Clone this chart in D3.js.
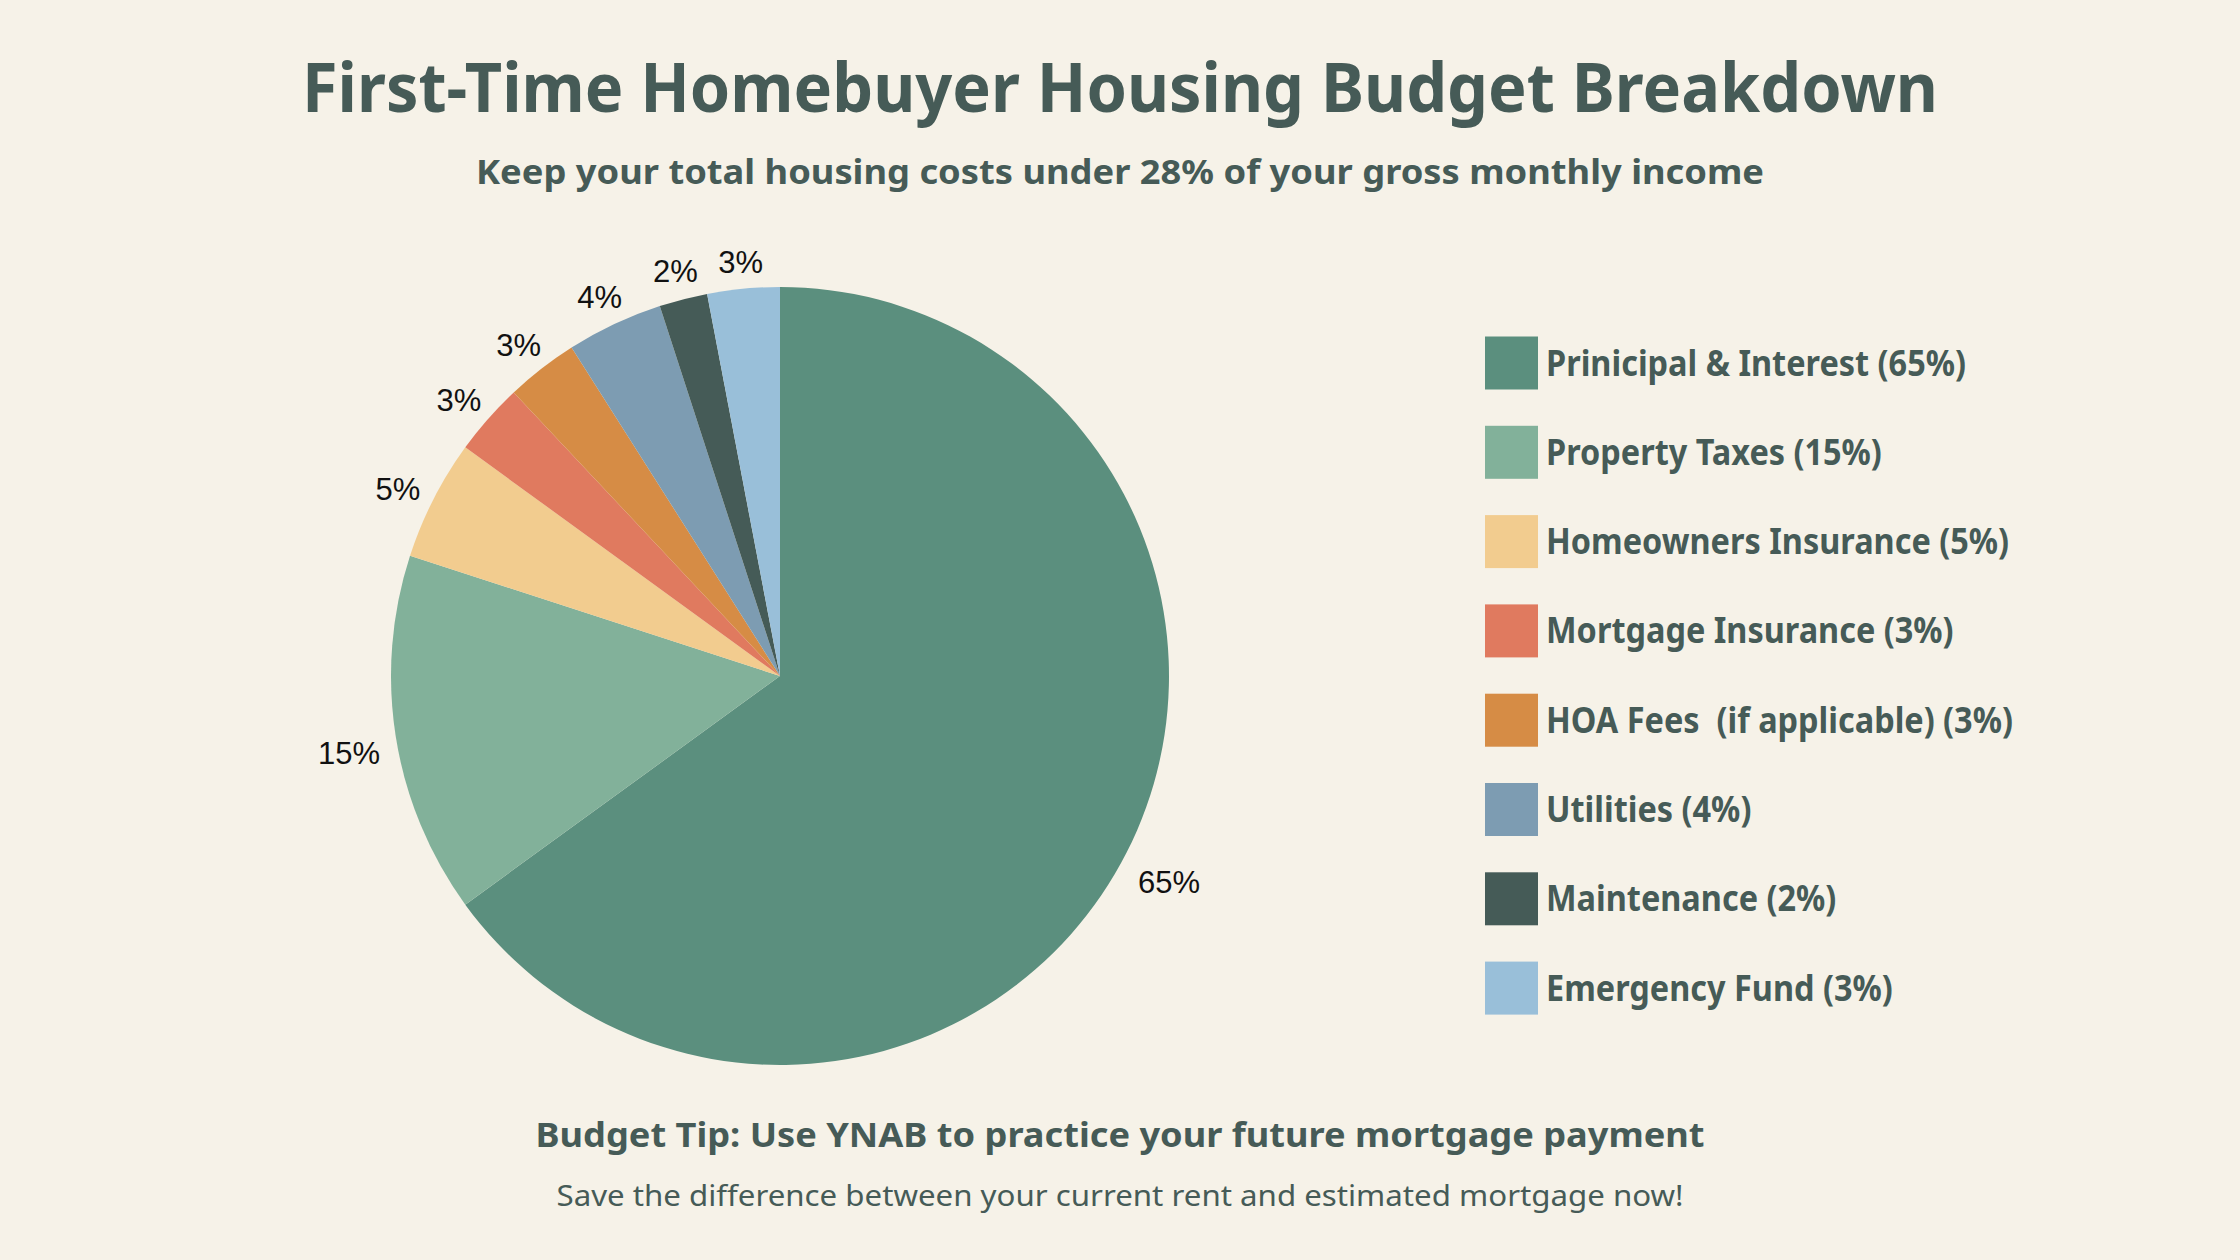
<!DOCTYPE html>
<html>
<head>
<meta charset="utf-8">
<script src="https://cdn.jsdelivr.net/npm/d3@7"></script>
<style>
    body { margin: 0; background: #f6f2e8; }
    text { white-space: pre; }
</style>
</head>
<body>
<svg id="chart" width="2240" height="1260"></svg>
<script>
const categories = [
    "Prinicipal & Interest",
    "Property Taxes",
    "Homeowners Insurance",
    "Mortgage Insurance",
    "HOA Fees  (if applicable)",
    "Utilities",
    "Maintenance",
    "Emergency Fund"
]
const shares = [65, 15, 5, 3, 3, 4, 2, 3]
const sliceColors = ["#5b8f7e", "#82b19a", "#f2cc8f", "#e07a5f", "#d68c45", "#7d9cb2", "#455b57", "#99bfd9"]

const titleText = "First-Time Homebuyer Housing Budget Breakdown"
const subtitleText = "Keep your total housing costs under 28% of your gross monthly income"
const tipText = "Budget Tip: Use YNAB to practice your future mortgage payment"
const noteText = "Save the difference between your current rent and estimated mortgage now!"

const ink = "#465b57"
const headFont = "'Noto Sans', 'Open Sans', sans-serif"
const labelFont = "'Liberation Sans', Arial, sans-serif"

const data = categories.map((c, i) => ({name: c, value: shares[i], color: sliceColors[i]}))

let svg = d3.select("#chart")

svg.append("rect")
    .attr("width", 2240)
    .attr("height", 1260)
    .attr("fill", "#f6f2e8")

// squeeze a text to the width the condensed original font takes
function fitWidth(sel, w) {
    sel.attr("textLength", w).attr("lengthAdjust", "spacingAndGlyphs")
}

function heading(txt, y, size, weight, w) {
    let t = svg.append("text")
        .attr("x", 1120)
        .attr("y", y)
        .attr("text-anchor", "middle")
        .attr("font-family", headFont)
        .attr("font-size", size)
        .attr("font-weight", weight)
        .attr("fill", ink)
        .text(txt)
    fitWidth(t, w)
    return t
}

heading(titleText, 112, 68, 700, 1636)
heading(subtitleText, 184, 34, 700, 1288)
heading(tipText, 1147, 34, 700, 1169)
heading(noteText, 1206, 29, 400, 1127)

// pie
const cx = 780, cy = 676, R = 389

const pie = d3.pie()
    .sort(null)
    .value(d => d.value)

const arc = d3.arc()
    .innerRadius(0)
    .outerRadius(R)

const arcs = pie(data)

let g = svg.append("g").attr("transform", `translate(${cx},${cy})`)

g.selectAll("path.slice")
    .data(arcs)
    .join("path")
    .attr("class", "slice")
    .attr("d", arc)
    .attr("fill", d => d.data.color)

const capH = 22
const gap = 15

g.selectAll("text.pct")
    .data(arcs)
    .join("text")
    .attr("class", "pct")
    .attr("text-anchor", "middle")
    .attr("font-family", labelFont)
    .attr("font-size", 31)
    .attr("fill", "#111")
    .text(d => d.data.value + "%")
    .each(function (d) {
        const a = (d.startAngle + d.endAngle) / 2
        const s = Math.sin(a), c = -Math.cos(a)
        const w = this.getComputedTextLength()
        const r = R + gap + Math.abs(s) * w / 2 + Math.abs(c) * capH / 2
        // side labels sit a little lower in the original
        const drop = 9 * Math.abs(s)
        d3.select(this)
            .attr("x", r * s)
            .attr("y", r * c + capH / 2 + drop)
    })

// legend
const legX = 1485, legY = 363, legStep = 89.3, sw = 53

let leg = svg.append("g")

let rows = leg.selectAll("g.row")
    .data(data)
    .join("g")
    .attr("class", "row")
    .attr("transform", (d, i) => `translate(${legX},${legY + i * legStep})`)

rows.append("rect")
    .attr("x", 0)
    .attr("y", -sw / 2)
    .attr("width", sw)
    .attr("height", sw)
    .attr("fill", d => d.color)

let labels = rows.append("text")
    .attr("x", sw + 8)
    .attr("y", 12.5)
    .attr("font-family", headFont)
    .attr("font-size", 35)
    .attr("font-weight", 700)
    .attr("fill", ink)
    .text(d => `${d.name} (${d.value}%)`)

// one squeeze factor for all rows, taken from the first one
const k = 420 / labels.node().getComputedTextLength()
labels.each(function () {
    fitWidth(d3.select(this), this.getComputedTextLength() * k)
})
</script>
</body>
</html>
